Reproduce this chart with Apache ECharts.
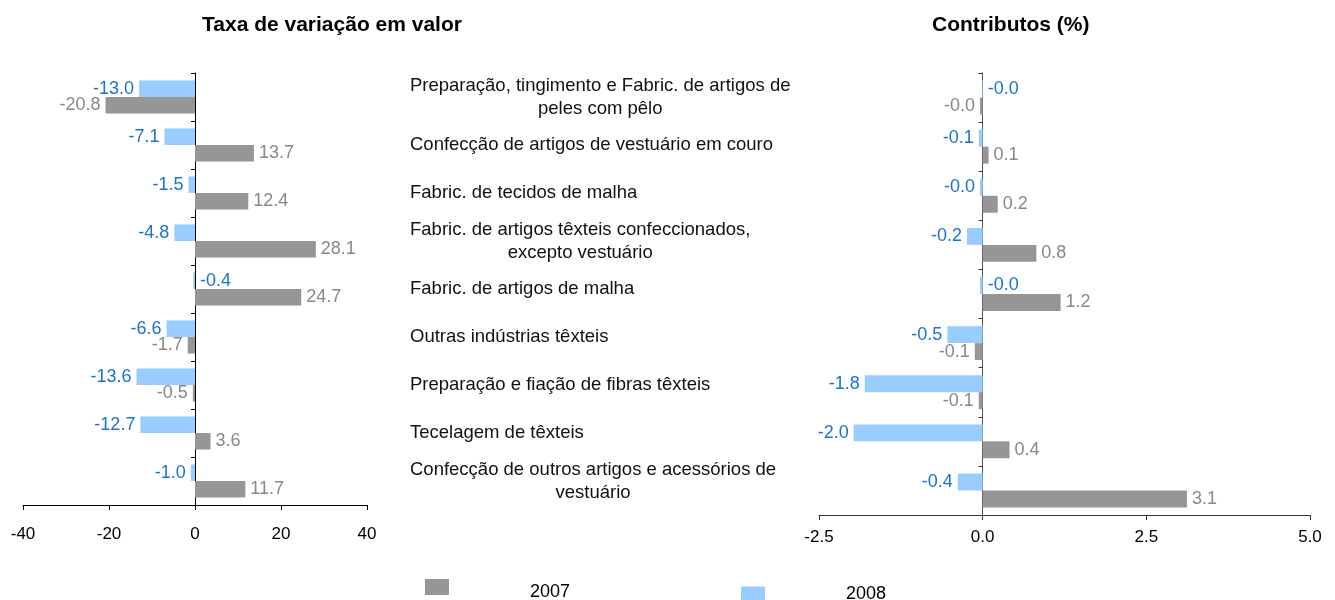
<!DOCTYPE html>
<html>
<head>
<meta charset="utf-8">
<script src="https://cdn.jsdelivr.net/npm/echarts@6/dist/echarts.min.js"></script>
<style>html,body{margin:0;padding:0;background:#fff}#c{width:1335px;height:600px}</style>
</head>
<body>
<div id="c"></div>
<script>
const categories = [
  'Preparação, tingimento e Fabric. de artigos de\npeles com pêlo',
  'Confecção de artigos de vestuário em couro',
  'Fabric. de tecidos de malha',
  'Fabric. de artigos têxteis confeccionados,\nexcepto vestuário',
  'Fabric. de artigos de malha',
  'Outras indústrias têxteis',
  'Preparação e fiação de fibras têxteis',
  'Tecelagem de têxteis',
  'Confecção de outros artigos e acessórios de\nvestuário'
];
const seriesNames = ['2007', '2008'];
const variacao2007 = [-20.8, 13.7, 12.4, 28.1, 24.7, -1.7, -0.5, 3.6, 11.7];
const variacao2008 = [-13.0, -7.1, -1.5, -4.8, -0.4, -6.6, -13.6, -12.7, -1.0];
const contrib2007 = [-0.04, 0.09, 0.23, 0.82, 1.19, -0.12, -0.06, 0.41, 3.12];
const contrib2008 = [-0.01, -0.06, -0.04, -0.24, -0.04, -0.54, -1.80, -1.97, -0.38];
const leftTicks = { min: -40, max: 40, interval: 20 };
const rightTicks = { min: -2.5, max: 5.0, interval: 2.5 };
const titles = ['Taxa de variação em valor', 'Contributos (%)'];

const GREY = '#969696', BLUE = '#99CCFF', GREY_TXT = '#888888', BLUE_TXT = '#1a72d4';
const FONT = 'Liberation Sans, Arial, sans-serif';

// label side overrides (style only)
const forceRight = { left2008: [4], right2008: [0, 4] };

function mkData(vals, key) {
  const fr = forceRight[key] || [];
  return vals.map((v, i) => {
    const pos = (fr.indexOf(i) >= 0) ? 'right' : (v < 0 ? 'left' : 'right');
    return { value: v, label: { position: pos } };
  });
}

function labelCfg(color) {
  return {
    show: true, distance: 5, color: color, fontSize: 18, fontFamily: FONT,
    formatter: p => Number(p.value).toFixed(1)
  };
}

const option = {
  animation: false,
  textStyle: { fontFamily: FONT },
  title: [
    { text: titles[0], left: 197, top: 10, textStyle: { fontSize: 21, fontWeight: 'bold', color: '#000', fontFamily: FONT } },
    { text: titles[1], left: 927, top: 10, textStyle: { fontSize: 21, fontWeight: 'bold', color: '#000', fontFamily: FONT } }
  ],
  legend: [
    { data: [seriesNames[0]], left: 425, top: 579, padding: 0, itemWidth: 24, itemHeight: 16, itemGap: 0, icon: 'rect',
      formatter: '{t|{name}}',
      textStyle: { fontSize: 18, color: '#000', fontFamily: FONT, padding: [0, 0, 0, 76],
        rich: { t: { fontSize: 18, color: '#000', fontFamily: FONT, padding: [10, 0, 0, 0] } } } },
    { data: [seriesNames[1]], left: 741, top: 585, padding: 0, itemWidth: 24, itemHeight: 15, itemGap: 0, icon: 'rect',
      textStyle: { fontSize: 18, color: '#000', fontFamily: FONT, padding: [0, 0, 0, 76] } }
  ],
  grid: [
    { left: 23, right: 1335 - 367, top: 73, bottom: 600 - 505, containLabel: false },
    { left: 819, right: 1335 - 1310, top: 73, bottom: 600 - 515, containLabel: false }
  ],
  xAxis: [
    { gridIndex: 0, type: 'value', min: leftTicks.min, max: leftTicks.max, interval: leftTicks.interval,
      splitLine: { show: false },
      axisLine: { show: true, onZero: false, lineStyle: { color: '#000', width: 1 } },
      axisTick: { show: true, length: 5, lineStyle: { color: '#000' } },
      axisLabel: { fontSize: 17, color: '#000', margin: 21, fontFamily: FONT } },
    { gridIndex: 1, type: 'value', min: rightTicks.min, max: rightTicks.max, interval: rightTicks.interval,
      splitLine: { show: false },
      axisLine: { show: true, onZero: false, lineStyle: { color: '#333', width: 1 } },
      axisTick: { show: true, length: 5, lineStyle: { color: '#333' } },
      axisLabel: { fontSize: 17, color: '#000', margin: 14, fontFamily: FONT, formatter: v => v.toFixed(1) } }
  ],
  yAxis: [
    { gridIndex: 0, type: 'category', inverse: true, data: categories,
      axisLine: { show: true, onZero: true, lineStyle: { color: '#000' } },
      axisTick: { show: true, inside: false, length: 4, lineStyle: { color: '#000' } },
      axisLabel: { show: false }, splitLine: { show: false } },
    { gridIndex: 0, type: 'category', inverse: true, data: categories, position: 'right',
      axisLine: { show: false, onZero: false }, axisTick: { show: false }, splitLine: { show: false },
      axisLabel: { show: true, align: 'left', margin: 43, fontSize: 18.5, color: '#111', fontFamily: FONT,
        lineHeight: 23,
        formatter: v => v.split('\n').map(s => '{c|' + s + '}').join('\n'),
        rich: { c: { align: 'center', fontSize: 18.5, lineHeight: 23, color: '#111', fontFamily: FONT } } } },
    { gridIndex: 1, type: 'category', inverse: true, data: categories,
      axisLine: { show: true, onZero: true, lineStyle: { color: '#555' } },
      axisTick: { show: true, inside: false, length: 4, lineStyle: { color: '#333' } },
      axisLabel: { show: false }, splitLine: { show: false } }
  ],
  series: [
    { name: seriesNames[1], type: 'bar', xAxisIndex: 0, yAxisIndex: 0, data: mkData(variacao2008, 'left2008'),
      itemStyle: { color: BLUE }, barGap: '0%', barCategoryGap: '31%', label: labelCfg(BLUE_TXT) },
    { name: seriesNames[0], type: 'bar', xAxisIndex: 0, yAxisIndex: 0, data: mkData(variacao2007, 'left2007'),
      itemStyle: { color: GREY }, barGap: '0%', barCategoryGap: '31%', label: labelCfg(GREY_TXT) },
    { name: seriesNames[1], type: 'bar', xAxisIndex: 1, yAxisIndex: 2, data: mkData(contrib2008, 'right2008'),
      itemStyle: { color: BLUE }, barGap: '0%', barCategoryGap: '31%', label: labelCfg(BLUE_TXT) },
    { name: seriesNames[0], type: 'bar', xAxisIndex: 1, yAxisIndex: 2, data: mkData(contrib2007, 'right2007'),
      itemStyle: { color: GREY }, barGap: '0%', barCategoryGap: '31%', label: labelCfg(GREY_TXT) }
  ]
};

const chart = echarts.init(document.getElementById('c'), null, { renderer: 'canvas' });
chart.setOption(option);
</script>
</body>
</html>
